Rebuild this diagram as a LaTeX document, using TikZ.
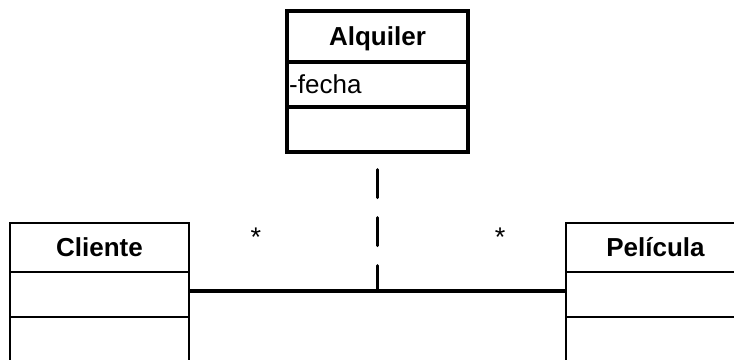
\documentclass[tikz,border=0pt]{standalone}
\usepackage{fontspec}
\setmainfont{Liberation Sans}
\begin{document}
\begin{tikzpicture}[x=1pt, y=-1pt,
  classbox/.style={draw, line width=2.4pt, minimum width=179pt, minimum height=45pt,
    inner xsep=1pt, font=\fontsize{26}{30}\selectfont, text height=17pt, text depth=0pt},
  classname/.style={classbox, minimum height=49pt, font=\fontsize{26}{30}\selectfont\bfseries},
  mult/.style={anchor=base, font=\fontsize{27}{30}\selectfont}]
\useasboundingbox (0,0) rectangle (734,359);
% association class
\node[classname, line width=3.2pt, minimum width=181pt, minimum height=51pt] (alq) at (377.5,36.5) {Alquiler};
\node[classbox, line width=3.2pt, inner xsep=2.2pt, text width=176.6pt, align=left] (alq-attr) at (377.5,84.5) {-fecha};
\node[classbox, line width=3.2pt, minimum width=181pt] (alq-ops) at (377.5,129.5) {};
% left class
\node[classname] (cli) at (99.5,247.5) {Cliente};
\node[classbox] (cli-attr) at (99.5,294.5) {};
\node[classbox] (cli-ops) at (99.5,339.5) {};
% right class
\node[classname] (pel) at (655.5,247.5) {Película};
\node[classbox] (pel-attr) at (655.5,294.5) {};
\node[classbox] (pel-ops) at (655.5,339.5) {};
% association
\coordinate (assoc) at (377.5,291);
\draw[line width=3.2pt] (cli-attr.east |- assoc) -- (pel-attr.west |- assoc);
\draw[line width=3.2pt, line cap=round, dash pattern=on 28pt off 20pt] ([yshift=-16pt]alq-ops.south) -- (assoc);
\node[mult] (m-cli) at (256,246) {*};
\node[mult] (m-pel) at (500,246) {*};
\end{tikzpicture}
\end{document}
